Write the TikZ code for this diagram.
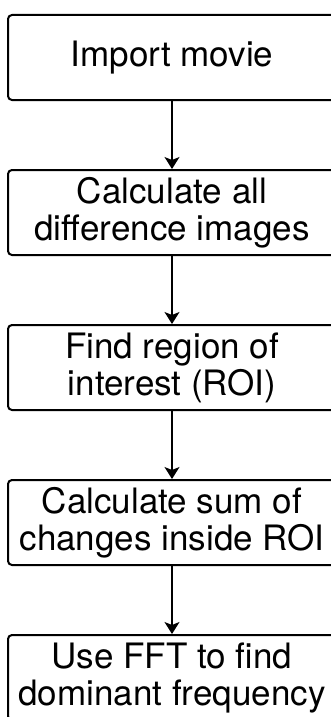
\documentclass[tikz,border=0pt]{standalone}
\usepackage{fontspec}
\setmainfont{TeX Gyre Heros}
\usetikzlibrary{arrows.meta}
\tikzset{
  stepbox/.style={draw=black, line width=2pt, rounded corners=4pt, fill=white,
    minimum width=328pt, minimum height=85pt, inner sep=0pt, align=center,
    font=\fontsize{35}{37}\selectfont},
  flow/.style={line width=1.3pt, -{Stealth[length=12pt,width=15pt,inset=3pt]}}
}
\begin{document}
\begin{tikzpicture}[x=1pt,y=-1pt]
\useasboundingbox (0,0) rectangle (331,717);
\clip (0,0) rectangle (331,717);
\fill[white] (0,0) rectangle (331,717);
\node[stepbox] (n1) at (172,57.5) {Import movie};
\node[stepbox] (n2) at (172,212.5) {Calculate all\\difference images};
\node[stepbox] (n3) at (172,367.5) {Find region of\\interest (ROI)};
\node[stepbox] (n4) at (172,522.5) {Calculate sum of\\changes inside ROI};
\node[stepbox] (n5) at (172,677.5) {Use FFT to find\\dominant frequency};
\draw[flow] (n1) -- (n2);
\draw[flow] (n2) -- (n3);
\draw[flow] (n3) -- (n4);
\draw[flow] (n4) -- (n5);
\end{tikzpicture}
\end{document}
